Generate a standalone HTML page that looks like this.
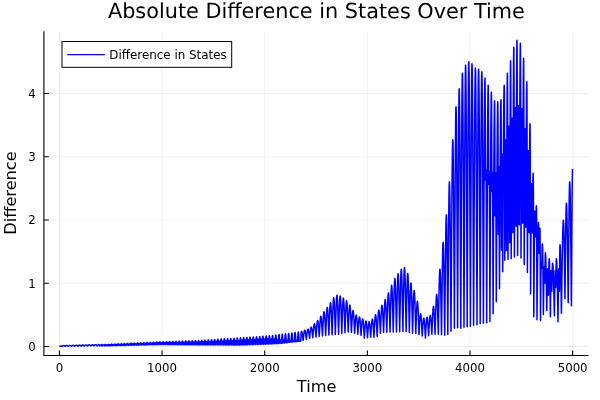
<!DOCTYPE html>
<html><head><meta charset="utf-8"><title>Absolute Difference in States Over Time</title>
<style>html,body{margin:0;padding:0;background:#fff}svg{display:block}</style></head>
<body>
<svg width="600" height="400" viewBox="0 0 600 400">
<rect width="600" height="400" fill="#fff"/>
<path d="M59.40 31.2 V355.55 M162.05 31.2 V355.55 M264.70 31.2 V355.55 M367.35 31.2 V355.55 M470.00 31.2 V355.55 M572.65 31.2 V355.55 M43.9 346.50 H588.5 M43.9 283.25 H588.5 M43.9 220.00 H588.5 M43.9 156.75 H588.5 M43.9 93.50 H588.5" stroke="#000" stroke-opacity="0.1" stroke-width="0.6" fill="none"/>
<path d="M59.40 346.00 L60.20 346.05 L61.00 346.20 L61.79 346.37 L62.33 346.00 L62.87 345.70 L63.40 345.58 L63.94 345.69 L64.48 345.98 L65.01 346.33 L65.55 345.93 L66.09 345.61 L66.62 345.49 L67.16 345.60 L67.69 345.91 L68.23 346.30 L68.77 345.87 L69.30 345.52 L69.84 345.39 L70.38 345.52 L70.91 345.85 L71.45 346.26 L71.99 345.80 L72.52 345.44 L73.06 345.30 L73.59 345.43 L74.13 345.78 L74.67 346.22 L75.20 345.73 L75.74 345.35 L76.28 345.20 L76.81 345.34 L77.35 345.71 L77.89 346.18 L78.42 345.67 L78.96 345.26 L79.49 345.10 L80.03 345.26 L80.57 345.65 L81.10 346.14 L81.64 345.60 L82.18 345.17 L82.71 345.01 L83.25 345.17 L83.78 345.58 L84.32 346.10 L84.86 345.54 L85.39 345.09 L85.93 344.91 L86.47 345.08 L87.00 345.52 L87.54 346.07 L88.08 345.47 L88.61 345.00 L89.15 344.82 L89.68 344.99 L90.22 345.45 L90.76 346.03 L91.29 345.41 L91.83 344.91 L92.37 344.72 L92.90 344.91 L93.44 345.39 L93.98 345.99 L94.51 345.34 L95.05 344.83 L95.58 344.63 L96.12 344.82 L96.66 345.32 L97.19 345.95 L97.73 345.28 L98.27 344.74 L98.80 344.53 L99.07 344.73 L99.34 345.26 L99.61 345.92 L99.87 345.48 L100.14 345.12 L100.41 344.98 L100.68 345.12 L100.95 345.47 L101.22 345.90 L101.48 345.21 L101.75 344.65 L102.02 344.44 L102.29 344.65 L102.56 345.20 L102.82 345.89 L103.09 345.42 L103.36 345.05 L103.63 344.91 L103.90 345.05 L104.17 345.41 L104.43 345.87 L104.70 345.14 L104.97 344.56 L105.24 344.34 L105.51 344.56 L105.77 345.13 L106.04 345.85 L106.31 345.37 L106.58 344.98 L106.85 344.83 L107.12 344.98 L107.38 345.36 L107.65 345.83 L107.92 345.08 L108.19 344.48 L108.46 344.25 L108.72 344.47 L108.99 345.07 L109.26 345.81 L109.53 345.31 L109.80 344.91 L110.06 344.76 L110.33 344.91 L110.60 345.29 L110.87 345.78 L111.14 344.99 L111.41 344.36 L111.67 344.12 L111.94 344.36 L112.21 344.97 L112.48 345.74 L112.75 345.21 L113.01 344.79 L113.28 344.63 L113.55 344.79 L113.82 345.19 L114.09 345.70 L114.36 344.88 L114.62 344.22 L114.89 343.97 L115.16 344.21 L115.43 344.86 L115.70 345.66 L115.96 345.11 L116.23 344.67 L116.50 344.50 L116.77 344.67 L117.04 345.09 L117.31 345.62 L117.57 344.76 L117.84 344.07 L118.11 343.81 L118.38 344.07 L118.65 344.74 L118.91 345.59 L119.18 345.01 L119.45 344.55 L119.72 344.38 L119.99 344.55 L120.26 344.99 L120.52 345.55 L120.79 344.65 L121.06 343.93 L121.33 343.66 L121.60 343.93 L121.86 344.63 L122.13 345.51 L122.40 344.91 L122.67 344.43 L122.94 344.25 L123.21 344.43 L123.47 344.89 L123.74 345.47 L124.01 344.54 L124.28 343.79 L124.55 343.50 L124.81 343.78 L125.08 344.51 L125.35 345.43 L125.62 344.81 L125.89 344.31 L126.16 344.12 L126.42 344.31 L126.69 344.79 L126.96 345.39 L127.23 344.42 L127.50 343.65 L127.76 343.35 L128.03 343.64 L128.30 344.40 L128.57 345.35 L128.84 344.71 L129.10 344.19 L129.37 343.99 L129.64 344.19 L129.91 344.69 L130.18 345.32 L130.45 344.31 L130.71 343.50 L130.98 343.19 L131.25 343.50 L131.52 344.29 L131.79 345.28 L132.05 344.61 L132.32 344.07 L132.59 343.87 L132.86 344.07 L133.13 344.59 L133.40 345.24 L133.66 344.19 L133.93 343.36 L134.20 343.04 L134.47 343.35 L134.74 344.17 L135.00 345.20 L135.27 344.51 L135.54 343.95 L135.81 343.74 L136.08 343.95 L136.35 344.49 L136.61 345.16 L136.88 344.08 L137.15 343.22 L137.42 342.88 L137.69 343.21 L137.95 344.06 L138.22 345.12 L138.49 344.40 L138.76 343.83 L139.03 343.61 L139.30 343.83 L139.56 344.38 L139.83 345.08 L140.10 343.97 L140.37 343.07 L140.64 342.73 L140.90 343.07 L141.17 343.95 L141.44 345.05 L141.71 344.30 L141.98 343.71 L142.24 343.48 L142.51 343.70 L142.78 344.28 L143.05 345.01 L143.32 343.85 L143.59 342.93 L143.85 342.58 L144.12 342.92 L144.39 343.83 L144.66 344.97 L144.93 344.20 L145.19 343.59 L145.46 343.36 L145.73 343.58 L146.00 344.18 L146.27 344.93 L146.54 343.74 L146.80 342.79 L147.07 342.42 L147.34 342.78 L147.61 343.72 L147.88 344.89 L148.14 344.10 L148.41 343.47 L148.68 343.23 L148.95 343.46 L149.22 344.08 L149.49 344.85 L149.75 343.62 L150.02 342.64 L150.29 342.27 L150.56 342.64 L150.83 343.60 L151.09 344.81 L151.36 344.00 L151.63 343.35 L151.90 343.10 L152.17 343.34 L152.44 343.98 L152.70 344.78 L152.97 343.51 L153.24 342.50 L153.51 342.11 L153.78 342.49 L154.04 343.49 L154.31 344.74 L154.58 343.90 L154.85 343.23 L155.12 342.97 L155.39 343.22 L155.65 343.88 L155.92 344.70 L156.19 343.40 L156.46 342.36 L156.73 341.96 L156.99 342.35 L157.26 343.38 L157.53 344.66 L157.80 343.80 L158.07 343.11 L158.34 342.85 L158.60 343.10 L158.87 343.78 L159.14 344.62 L159.41 343.28 L159.68 342.21 L159.94 341.80 L160.21 342.21 L160.48 343.27 L160.75 344.61 L161.02 343.72 L161.28 343.02 L161.55 342.75 L161.82 343.02 L162.09 343.73 L162.36 344.62 L162.63 343.23 L162.89 342.12 L163.16 341.69 L163.43 342.12 L163.70 343.23 L163.97 344.63 L164.23 343.71 L164.50 342.97 L164.77 342.68 L165.04 342.97 L165.31 343.71 L165.58 344.64 L165.84 343.19 L166.11 342.02 L166.38 341.58 L166.65 342.02 L166.92 343.19 L167.18 344.65 L167.45 343.69 L167.72 342.92 L167.99 342.62 L168.26 342.92 L168.53 343.69 L168.79 344.67 L169.06 343.15 L169.33 341.93 L169.60 341.46 L169.87 341.93 L170.13 343.15 L170.40 344.68 L170.67 343.67 L170.94 342.86 L171.21 342.55 L171.48 342.87 L171.74 343.68 L172.01 344.69 L172.28 343.10 L172.55 341.84 L172.82 341.35 L173.08 341.84 L173.35 343.11 L173.62 344.70 L173.89 343.65 L174.16 342.81 L174.42 342.49 L174.69 342.81 L174.96 343.66 L175.23 344.71 L175.50 343.06 L175.77 341.74 L176.03 341.24 L176.30 341.75 L176.57 343.07 L176.84 344.73 L177.11 343.63 L177.37 342.76 L177.64 342.42 L177.91 342.76 L178.18 343.64 L178.45 344.74 L178.72 343.02 L178.98 341.65 L179.25 341.13 L179.52 341.65 L179.79 343.03 L180.06 344.75 L180.32 343.62 L180.59 342.71 L180.86 342.36 L181.13 342.71 L181.40 343.62 L181.67 344.76 L181.93 342.98 L182.20 341.56 L182.47 341.01 L182.74 341.56 L183.01 342.99 L183.27 344.77 L183.54 343.60 L183.81 342.66 L184.08 342.30 L184.35 342.66 L184.62 343.60 L184.88 344.79 L185.15 342.94 L185.42 341.47 L185.69 340.90 L185.96 341.47 L186.22 342.95 L186.49 344.80 L186.76 343.58 L187.03 342.60 L187.30 342.23 L187.57 342.61 L187.83 343.59 L188.10 344.81 L188.37 342.90 L188.64 341.37 L188.91 340.79 L189.17 341.38 L189.44 342.91 L189.71 344.82 L189.98 343.56 L190.25 342.55 L190.52 342.17 L190.78 342.55 L191.05 343.57 L191.32 344.83 L191.59 342.86 L191.86 341.28 L192.12 340.68 L192.39 341.28 L192.66 342.87 L192.93 344.85 L193.20 343.54 L193.46 342.50 L193.73 342.10 L194.00 342.50 L194.27 343.55 L194.54 344.86 L194.81 342.82 L195.07 341.19 L195.34 340.56 L195.61 341.19 L195.88 342.82 L196.15 344.87 L196.41 343.52 L196.68 342.45 L196.95 342.04 L197.22 342.45 L197.49 343.53 L197.76 344.88 L198.02 342.78 L198.29 341.10 L198.56 340.45 L198.83 341.10 L199.10 342.78 L199.36 344.90 L199.63 343.50 L199.90 342.39 L200.17 341.97 L200.44 342.40 L200.71 343.51 L200.97 344.90 L201.24 342.71 L201.51 340.96 L201.78 340.28 L202.05 340.96 L202.31 342.71 L202.58 344.91 L202.85 343.45 L203.12 342.29 L203.39 341.84 L203.66 342.29 L203.92 343.46 L204.19 344.92 L204.46 342.62 L204.73 340.78 L205.00 340.08 L205.26 340.78 L205.53 342.62 L205.80 344.93 L206.07 343.40 L206.34 342.18 L206.60 341.71 L206.87 342.18 L207.14 343.40 L207.41 344.94 L207.61 343.12 L207.81 341.46 L208.01 340.29 L208.21 339.87 L208.42 340.29 L208.62 341.46 L208.82 343.12 L209.02 344.95 L209.29 343.35 L209.55 342.07 L209.82 341.58 L210.09 342.07 L210.36 343.35 L210.63 344.95 L210.83 343.05 L211.03 341.32 L211.23 340.10 L211.43 339.66 L211.63 340.10 L211.83 341.32 L212.04 343.06 L212.24 344.96 L212.50 343.29 L212.77 341.96 L213.04 341.45 L213.31 341.96 L213.58 343.30 L213.85 344.97 L214.05 342.99 L214.25 341.18 L214.45 339.91 L214.65 339.45 L214.85 339.91 L215.05 341.18 L215.25 342.99 L215.45 344.98 L215.72 343.24 L215.99 341.85 L216.26 341.32 L216.53 341.85 L216.80 343.24 L217.06 344.99 L217.26 342.92 L217.47 341.04 L217.67 339.72 L217.87 339.24 L218.07 339.72 L218.27 341.04 L218.47 342.93 L218.67 344.99 L218.94 343.18 L219.21 341.74 L219.48 341.19 L219.75 341.74 L220.01 343.19 L220.28 345.00 L220.48 342.86 L220.68 340.90 L220.88 339.53 L221.09 339.03 L221.29 339.53 L221.49 340.90 L221.69 342.86 L221.89 345.01 L222.16 343.13 L222.43 341.63 L222.69 341.06 L222.96 341.63 L223.23 343.14 L223.50 345.02 L223.70 342.79 L223.90 340.76 L224.10 339.34 L224.30 338.82 L224.51 339.34 L224.71 340.77 L224.91 342.80 L225.11 345.03 L225.38 343.08 L225.64 341.52 L225.91 340.93 L226.18 341.52 L226.45 343.08 L226.72 345.03 L226.92 342.73 L227.12 340.63 L227.32 339.15 L227.52 338.61 L227.72 339.15 L227.92 340.63 L228.13 342.73 L228.33 345.04 L228.59 343.02 L228.86 341.41 L229.13 340.80 L229.40 341.41 L229.67 343.03 L229.94 345.05 L230.14 342.66 L230.34 340.49 L230.54 338.95 L230.74 338.40 L230.94 338.96 L231.14 340.49 L231.34 342.67 L231.54 345.06 L231.81 342.97 L232.08 341.30 L232.35 340.66 L232.62 341.31 L232.89 342.98 L233.15 345.07 L233.35 342.60 L233.56 340.35 L233.76 338.76 L233.96 338.19 L234.16 338.76 L234.36 340.35 L234.56 342.60 L234.76 345.07 L235.03 342.92 L235.30 341.20 L235.57 340.53 L235.84 341.20 L236.10 342.92 L236.37 345.08 L236.57 342.53 L236.77 340.21 L236.97 338.57 L237.18 337.98 L237.38 338.57 L237.58 340.21 L237.78 342.54 L237.98 345.09 L238.25 342.86 L238.52 341.09 L238.78 340.40 L239.05 341.09 L239.32 342.87 L239.59 345.10 L239.79 342.47 L239.99 340.07 L240.19 338.38 L240.39 337.77 L240.60 338.38 L240.80 340.06 L241.00 342.44 L241.20 345.06 L241.47 342.77 L241.73 340.94 L242.00 340.24 L242.27 340.93 L242.54 342.74 L242.81 345.00 L243.01 342.33 L243.21 339.89 L243.41 338.18 L243.61 337.56 L243.81 338.17 L244.01 339.87 L244.22 342.29 L244.42 344.94 L244.68 342.62 L244.95 340.77 L245.22 340.06 L245.49 340.76 L245.76 342.59 L246.03 344.88 L246.23 342.17 L246.43 339.71 L246.63 337.97 L246.83 337.34 L247.03 337.97 L247.23 339.69 L247.43 342.14 L247.63 344.82 L247.90 342.47 L248.17 340.60 L248.44 339.88 L248.71 340.59 L248.98 342.44 L249.24 344.76 L249.44 342.02 L249.65 339.52 L249.85 337.76 L250.05 337.13 L250.25 337.76 L250.45 339.50 L250.65 341.98 L250.85 344.70 L251.05 342.91 L251.25 341.27 L251.46 340.12 L251.66 339.70 L251.93 340.42 L252.19 342.30 L252.46 344.64 L252.66 341.87 L252.86 339.34 L253.06 337.56 L253.27 336.92 L253.47 337.55 L253.67 339.32 L253.87 341.83 L254.07 344.58 L254.27 342.77 L254.47 341.11 L254.67 339.94 L254.88 339.52 L255.08 339.94 L255.28 341.09 L255.48 342.73 L255.68 344.53 L255.88 341.72 L256.08 339.15 L256.28 337.35 L256.48 336.70 L256.69 337.35 L256.89 339.14 L257.09 341.68 L257.29 344.47 L257.49 342.63 L257.69 340.95 L257.89 339.77 L258.09 339.34 L258.29 339.76 L258.50 340.93 L258.70 342.59 L258.90 344.41 L259.10 341.56 L259.30 338.97 L259.50 337.15 L259.70 336.49 L259.90 337.14 L260.10 338.95 L260.31 341.53 L260.51 344.35 L260.71 342.48 L260.91 340.79 L261.11 339.59 L261.31 339.16 L261.51 339.58 L261.71 340.77 L261.91 342.45 L262.12 344.29 L262.32 341.41 L262.52 338.79 L262.72 336.94 L262.92 336.27 L263.12 336.93 L263.32 338.77 L263.52 341.37 L263.72 344.23 L263.93 342.34 L264.13 340.62 L264.33 339.41 L264.53 338.98 L264.73 339.41 L264.93 340.61 L265.13 342.31 L265.33 344.17 L265.53 341.26 L265.74 338.60 L265.94 336.73 L266.14 336.06 L266.34 336.73 L266.54 338.58 L266.74 341.22 L266.94 344.11 L267.14 342.20 L267.34 340.46 L267.55 339.24 L267.75 338.80 L267.95 339.23 L268.15 340.45 L268.35 342.17 L268.55 344.05 L268.75 341.11 L268.95 338.42 L269.15 336.53 L269.36 335.84 L269.56 336.52 L269.76 338.40 L269.96 341.07 L270.16 343.99 L270.43 341.65 L270.70 339.78 L270.97 339.06 L271.23 339.77 L271.50 341.61 L271.77 343.91 L271.97 340.87 L272.17 338.10 L272.37 336.14 L272.57 335.44 L272.78 336.14 L272.98 338.07 L273.18 340.82 L273.38 343.83 L273.65 341.68 L273.91 339.95 L274.18 339.29 L274.45 339.94 L274.72 341.63 L274.99 343.75 L275.19 340.60 L275.39 337.74 L275.59 335.72 L275.79 334.99 L275.99 335.71 L276.19 337.71 L276.40 340.55 L276.60 343.67 L276.86 341.72 L277.13 340.16 L277.40 339.56 L277.67 340.15 L277.94 341.68 L278.21 343.59 L278.41 340.34 L278.61 337.38 L278.81 335.29 L279.01 334.54 L279.21 335.28 L279.41 337.35 L279.61 340.29 L279.81 343.51 L280.08 341.77 L280.35 340.38 L280.62 339.84 L280.89 340.35 L281.16 341.67 L281.42 343.33 L281.62 340.03 L281.83 337.02 L282.03 334.90 L282.23 334.13 L282.43 334.88 L282.63 336.96 L282.83 339.90 L283.03 343.14 L283.30 341.67 L283.57 340.50 L283.84 340.05 L284.11 340.47 L284.37 341.57 L284.64 342.94 L284.84 339.64 L285.04 336.63 L285.24 334.51 L285.45 333.75 L285.65 334.50 L285.85 336.57 L286.05 339.52 L286.25 342.75 L286.52 341.57 L286.79 340.62 L287.06 340.26 L287.32 340.59 L287.59 341.47 L287.86 342.56 L288.06 339.25 L288.26 336.24 L288.46 334.13 L288.66 333.36 L288.87 334.11 L289.07 336.18 L289.27 339.13 L289.47 342.36 L289.74 341.47 L290.00 340.75 L290.27 340.47 L290.54 340.72 L290.81 341.38 L291.08 342.19 L291.28 338.87 L291.48 335.84 L291.68 333.71 L291.88 332.94 L292.08 333.69 L292.28 335.79 L292.49 338.77 L292.69 342.03 L292.95 341.41 L293.22 340.92 L293.49 340.73 L293.76 340.90 L294.03 341.33 L294.30 341.87 L294.50 338.50 L294.70 335.43 L294.90 333.27 L295.10 332.49 L295.30 333.25 L295.50 335.38 L295.70 338.40 L295.90 341.71 L296.17 341.37 L296.44 341.11 L296.71 341.00 L296.98 341.08 L297.25 341.29 L297.51 341.55 L297.71 338.13 L297.92 335.02 L298.12 332.83 L298.32 332.04 L298.52 332.81 L298.72 334.97 L298.92 338.03 L299.12 341.39 L299.39 341.34 L299.66 341.31 L299.93 341.29 L300.20 341.19 L300.46 341.11 L300.73 341.08 L300.93 337.56 L301.13 334.35 L301.33 332.09 L301.54 331.28 L301.94 332.03 L302.34 334.12 L302.74 337.10 L303.15 340.36 L303.47 337.43 L303.79 334.62 L304.11 332.28 L304.43 330.73 L304.75 330.18 L305.16 330.95 L305.56 333.07 L305.96 336.09 L306.36 339.39 L306.68 336.43 L307.01 333.59 L307.33 331.22 L307.65 329.64 L307.97 329.09 L308.37 329.87 L308.78 332.02 L309.18 335.07 L309.58 338.43 L309.90 335.18 L310.22 332.06 L310.55 329.47 L310.87 327.74 L311.19 327.14 L311.51 327.71 L311.83 329.33 L312.16 331.77 L312.48 334.69 L312.80 337.74 L313.12 333.71 L313.44 329.84 L313.76 326.62 L314.09 324.48 L314.41 323.73 L314.73 324.44 L315.05 326.49 L315.37 329.56 L315.70 333.25 L316.02 337.10 L316.29 333.11 L316.55 329.20 L316.82 325.69 L317.09 322.89 L317.36 321.10 L317.63 320.47 L317.89 321.07 L318.16 322.80 L318.43 325.49 L318.70 328.86 L318.97 332.62 L319.24 336.45 L319.46 332.32 L319.69 328.22 L319.92 324.38 L320.15 321.07 L320.38 318.51 L320.61 316.89 L320.84 316.33 L321.11 317.07 L321.38 319.19 L321.65 322.49 L321.92 326.64 L322.18 331.25 L322.45 335.96 L322.68 330.98 L322.91 326.02 L323.14 321.39 L323.37 317.39 L323.60 314.30 L323.83 312.35 L324.06 311.68 L324.29 312.34 L324.52 314.26 L324.75 317.29 L324.98 321.21 L325.21 325.76 L325.44 330.62 L325.67 335.51 L325.87 330.46 L326.07 325.41 L326.27 320.58 L326.48 316.21 L326.68 312.53 L326.88 309.73 L327.08 307.99 L327.28 307.39 L327.48 307.98 L327.68 309.69 L327.88 312.44 L328.08 316.07 L328.29 320.37 L328.49 325.12 L328.69 330.09 L328.89 335.06 L329.07 329.89 L329.25 324.69 L329.43 319.64 L329.60 314.94 L329.78 310.78 L329.96 307.33 L330.14 304.74 L330.32 303.14 L330.50 302.60 L330.68 303.14 L330.86 304.73 L331.03 307.29 L331.21 310.70 L331.39 314.83 L331.57 319.49 L331.75 324.49 L331.93 329.64 L332.11 334.77 L332.27 329.47 L332.43 324.14 L332.59 318.90 L332.75 313.94 L332.91 309.40 L333.07 305.44 L333.23 302.20 L333.39 299.79 L333.56 298.31 L333.72 297.81 L333.88 298.31 L334.04 299.78 L334.20 302.17 L334.36 305.40 L334.52 309.34 L334.68 313.85 L334.84 318.79 L335.00 323.99 L335.16 329.30 L335.32 334.56 L335.49 328.92 L335.65 323.23 L335.81 317.66 L335.97 312.37 L336.13 307.54 L336.29 303.32 L336.45 299.86 L336.61 297.30 L336.77 295.72 L336.93 295.19 L337.09 295.72 L337.26 297.29 L337.42 299.84 L337.58 303.27 L337.74 307.47 L337.90 312.28 L338.06 317.55 L338.22 323.09 L338.38 328.74 L338.54 334.35 L338.70 328.85 L338.86 323.30 L339.03 317.86 L339.19 312.70 L339.35 307.98 L339.51 303.86 L339.67 300.49 L339.83 297.98 L339.99 296.44 L340.15 295.92 L340.31 296.43 L340.47 297.95 L340.63 300.40 L340.80 303.71 L340.96 307.76 L341.12 312.39 L341.28 317.46 L341.44 322.80 L341.60 328.26 L341.76 333.66 L341.92 328.57 L342.08 323.44 L342.24 318.42 L342.40 313.64 L342.57 309.28 L342.73 305.47 L342.89 302.36 L343.05 300.04 L343.21 298.62 L343.37 298.14 L343.55 298.72 L343.73 300.43 L343.91 303.19 L344.09 306.87 L344.26 311.31 L344.44 316.33 L344.62 321.72 L344.80 327.27 L344.98 332.79 L345.16 327.68 L345.34 322.53 L345.52 317.54 L345.69 312.89 L345.87 308.77 L346.05 305.36 L346.23 302.81 L346.41 301.22 L346.59 300.69 L346.77 301.21 L346.95 302.75 L347.12 305.23 L347.30 308.55 L347.48 312.56 L347.66 317.08 L347.84 321.94 L348.02 326.94 L348.20 331.92 L348.40 327.11 L348.60 322.29 L348.80 317.69 L349.00 313.52 L349.20 310.00 L349.40 307.34 L349.60 305.68 L349.81 305.11 L350.01 305.68 L350.21 307.37 L350.41 310.08 L350.61 313.65 L350.81 317.89 L351.01 322.57 L351.21 327.46 L351.42 332.34 L351.64 327.86 L351.87 323.39 L352.10 319.22 L352.33 315.62 L352.56 312.83 L352.79 311.08 L353.02 310.47 L353.25 311.10 L353.48 312.93 L353.71 315.82 L353.94 319.56 L354.17 323.90 L354.40 328.54 L354.63 333.20 L354.90 328.86 L355.17 324.60 L355.44 320.77 L355.71 317.73 L355.97 315.77 L356.24 315.09 L356.51 315.81 L356.78 317.88 L357.05 321.10 L357.31 325.15 L357.58 329.66 L357.85 334.25 L358.12 330.10 L358.39 326.02 L358.66 322.35 L358.92 319.44 L359.19 317.57 L359.46 316.92 L359.73 317.61 L360.00 319.61 L360.26 322.71 L360.53 326.61 L360.80 330.95 L361.07 335.37 L361.34 331.42 L361.61 327.54 L361.87 324.05 L362.14 321.28 L362.41 319.50 L362.68 318.89 L362.95 319.61 L363.21 321.71 L363.48 324.96 L363.75 329.06 L364.02 333.62 L364.29 338.26 L364.56 334.13 L364.82 330.08 L365.09 326.43 L365.36 323.54 L365.63 321.67 L365.90 321.03 L366.16 321.66 L366.43 323.47 L366.70 326.29 L366.97 329.83 L367.24 333.78 L367.51 337.80 L367.77 333.93 L368.04 330.13 L368.31 326.71 L368.58 324.00 L368.85 322.25 L369.11 321.64 L369.38 322.23 L369.65 323.92 L369.92 326.55 L370.19 329.86 L370.45 333.55 L370.72 337.30 L370.99 332.94 L371.26 328.66 L371.53 324.82 L371.80 321.77 L372.06 319.80 L372.33 319.12 L372.60 319.80 L372.87 321.77 L373.14 324.82 L373.40 328.66 L373.67 332.94 L373.94 337.30 L374.17 332.67 L374.40 328.06 L374.63 323.76 L374.86 320.05 L375.09 317.17 L375.32 315.36 L375.55 314.74 L375.78 315.33 L376.01 317.07 L376.24 319.83 L376.47 323.39 L376.70 327.52 L376.93 331.93 L377.16 336.37 L377.36 331.66 L377.56 326.93 L377.76 322.42 L377.96 318.33 L378.16 314.89 L378.37 312.28 L378.57 310.64 L378.77 310.09 L379.00 310.72 L379.23 312.58 L379.46 315.51 L379.69 319.31 L379.92 323.70 L380.15 328.41 L380.38 333.14 L380.58 328.15 L380.78 323.16 L380.98 318.39 L381.18 314.07 L381.38 310.43 L381.58 307.66 L381.78 305.94 L381.99 305.35 L382.19 305.92 L382.39 307.60 L382.59 310.29 L382.79 313.83 L382.99 318.03 L383.19 322.67 L383.39 327.52 L383.60 332.37 L383.77 327.13 L383.95 321.86 L384.13 316.74 L384.31 311.97 L384.49 307.75 L384.67 304.25 L384.85 301.63 L385.03 300.01 L385.20 299.46 L385.38 300.00 L385.56 301.61 L385.74 304.22 L385.92 307.69 L386.10 311.88 L386.28 316.62 L386.46 321.70 L386.63 326.93 L386.81 332.14 L386.97 326.51 L387.13 320.84 L387.30 315.28 L387.46 310.01 L387.62 305.18 L387.78 300.97 L387.94 297.53 L388.10 294.97 L388.26 293.40 L388.42 292.87 L388.58 293.39 L388.74 294.96 L388.90 297.51 L389.07 300.94 L389.23 305.12 L389.39 309.93 L389.55 315.18 L389.71 320.71 L389.87 326.36 L390.03 331.96 L390.17 326.40 L390.30 320.78 L390.43 315.21 L390.57 309.80 L390.70 304.67 L390.84 299.94 L390.97 295.71 L391.10 292.10 L391.24 289.19 L391.37 287.05 L391.51 285.75 L391.64 285.31 L391.77 285.74 L391.91 287.05 L392.04 289.18 L392.18 292.09 L392.31 295.70 L392.44 299.92 L392.58 304.65 L392.71 309.77 L392.85 315.17 L392.98 320.73 L393.11 326.35 L393.25 331.90 L393.38 325.54 L393.52 319.11 L393.65 312.74 L393.79 306.55 L393.92 300.69 L394.05 295.27 L394.19 290.44 L394.32 286.31 L394.46 282.98 L394.59 280.53 L394.72 279.04 L394.86 278.54 L394.99 279.04 L395.13 280.53 L395.26 282.98 L395.39 286.31 L395.53 290.44 L395.66 295.27 L395.80 300.69 L395.93 306.55 L396.06 312.74 L396.20 319.11 L396.33 325.54 L396.47 331.90 L396.60 324.97 L396.74 317.96 L396.87 311.02 L397.00 304.28 L397.14 297.88 L397.27 291.98 L397.41 286.71 L397.54 282.21 L397.67 278.58 L397.81 275.92 L397.94 274.29 L398.08 273.74 L398.21 274.29 L398.34 275.91 L398.48 278.56 L398.61 282.18 L398.75 286.67 L398.88 291.92 L399.01 297.80 L399.15 304.17 L399.28 310.89 L399.42 317.81 L399.55 324.79 L399.69 331.69 L399.82 324.24 L399.95 316.71 L400.09 309.25 L400.22 302.00 L400.36 295.13 L400.49 288.79 L400.62 283.13 L400.76 278.29 L400.89 274.39 L401.03 271.52 L401.16 269.78 L401.29 269.19 L401.43 269.77 L401.56 271.51 L401.70 274.36 L401.83 278.24 L401.96 283.06 L402.10 288.70 L402.23 295.01 L402.37 301.85 L402.50 309.06 L402.63 316.49 L402.77 323.99 L402.90 331.40 L403.04 323.80 L403.17 316.11 L403.31 308.49 L403.44 301.09 L403.57 294.08 L403.71 287.61 L403.84 281.83 L403.98 276.89 L404.11 272.91 L404.24 269.98 L404.38 268.20 L404.51 267.60 L404.65 268.20 L404.78 269.99 L404.91 272.92 L405.05 276.91 L405.18 281.87 L405.32 287.66 L405.45 294.15 L405.58 301.18 L405.72 308.60 L405.85 316.24 L405.99 323.94 L406.12 331.57 L406.26 324.64 L406.39 317.64 L406.52 310.70 L406.66 303.96 L406.79 297.57 L406.93 291.68 L407.06 286.42 L407.19 281.92 L407.33 278.29 L407.46 275.63 L407.60 274.00 L407.73 273.46 L407.86 274.01 L408.00 275.66 L408.13 278.37 L408.27 282.05 L408.40 286.63 L408.53 291.97 L408.67 297.96 L408.80 304.46 L408.94 311.30 L409.07 318.35 L409.20 325.47 L409.34 332.50 L409.47 326.60 L409.61 320.64 L409.74 314.73 L409.88 308.99 L410.01 303.55 L410.14 298.52 L410.28 294.04 L410.41 290.21 L410.55 287.12 L410.68 284.85 L410.81 283.46 L410.95 283.00 L411.08 283.47 L411.22 284.87 L411.35 287.17 L411.48 290.30 L411.62 294.19 L411.75 298.73 L411.89 303.82 L412.02 309.34 L412.15 315.16 L412.29 321.15 L412.42 327.19 L412.56 333.17 L412.70 327.63 L412.85 322.03 L413.00 316.51 L413.14 311.20 L413.29 306.23 L413.43 301.76 L413.58 297.90 L413.73 294.77 L413.87 292.46 L414.02 291.05 L414.17 290.57 L414.31 291.05 L414.46 292.48 L414.60 294.81 L414.75 297.97 L414.90 301.87 L415.04 306.38 L415.19 311.39 L415.34 316.75 L415.48 322.33 L415.63 327.98 L415.78 333.57 L415.95 328.44 L416.13 323.28 L416.31 318.27 L416.49 313.60 L416.67 309.47 L416.85 306.05 L417.03 303.48 L417.21 301.89 L417.38 301.36 L417.56 301.91 L417.74 303.55 L417.92 306.19 L418.10 309.73 L418.28 313.99 L418.46 318.80 L418.64 323.97 L418.81 329.30 L418.99 334.59 L419.22 330.34 L419.45 326.10 L419.68 322.15 L419.91 318.73 L420.14 316.09 L420.37 314.42 L420.60 313.85 L420.83 314.46 L421.06 316.25 L421.29 319.07 L421.52 322.73 L421.75 326.96 L421.98 331.48 L422.21 336.04 L422.48 331.75 L422.75 327.55 L423.02 323.77 L423.28 320.77 L423.55 318.84 L423.82 318.17 L424.09 318.91 L424.36 321.07 L424.62 324.42 L424.89 328.63 L425.16 333.33 L425.43 338.10 L425.66 333.81 L425.89 329.55 L426.12 325.56 L426.35 322.12 L426.58 319.46 L426.81 317.78 L427.04 317.20 L427.31 317.89 L427.57 319.88 L427.84 322.98 L428.11 326.88 L428.38 331.22 L428.65 335.64 L428.88 331.48 L429.11 327.35 L429.34 323.49 L429.57 320.15 L429.80 317.57 L430.03 315.94 L430.26 315.39 L430.52 316.09 L430.79 318.14 L431.06 321.32 L431.33 325.32 L431.60 329.77 L431.87 334.30 L432.07 329.27 L432.27 324.23 L432.47 319.42 L432.67 315.06 L432.87 311.38 L433.07 308.60 L433.27 306.86 L433.47 306.27 L433.68 306.86 L433.88 308.60 L434.08 311.38 L434.28 315.06 L434.48 319.42 L434.68 324.23 L434.88 329.27 L435.08 334.30 L435.24 328.60 L435.40 322.86 L435.57 317.23 L435.73 311.88 L435.89 306.99 L436.05 302.73 L436.21 299.24 L436.37 296.65 L436.53 295.06 L436.69 294.52 L436.85 295.06 L437.01 296.65 L437.17 299.24 L437.34 302.73 L437.50 306.99 L437.66 311.88 L437.82 317.23 L437.98 322.86 L438.14 328.60 L438.30 334.30 L438.44 326.54 L438.57 318.71 L438.70 310.93 L438.84 303.39 L438.97 296.23 L439.11 289.63 L439.24 283.74 L439.37 278.70 L439.51 274.63 L439.64 271.65 L439.78 269.84 L439.91 269.22 L440.04 269.84 L440.18 271.67 L440.31 274.67 L440.45 278.76 L440.58 283.83 L440.71 289.76 L440.85 296.41 L440.98 303.61 L441.12 311.20 L441.25 319.02 L441.38 326.91 L441.52 334.72 L441.65 323.70 L441.79 312.56 L441.92 301.52 L442.06 290.80 L442.19 280.64 L442.32 271.26 L442.46 262.89 L442.59 255.73 L442.73 249.96 L442.86 245.72 L442.99 243.14 L443.13 242.27 L443.26 243.14 L443.40 245.74 L443.53 250.00 L443.66 255.81 L443.80 263.01 L443.93 271.44 L444.07 280.87 L444.20 291.10 L444.33 301.89 L444.47 312.99 L444.60 324.20 L444.74 335.28 L444.87 320.93 L445.01 306.41 L445.14 292.02 L445.27 278.05 L445.41 264.81 L445.54 252.58 L445.68 241.67 L445.81 232.34 L445.94 224.82 L446.08 219.30 L446.21 215.93 L446.35 214.80 L446.47 215.93 L446.59 219.27 L446.71 224.76 L446.83 232.23 L446.95 241.51 L447.07 252.35 L447.19 264.50 L447.32 277.67 L447.44 291.55 L447.56 305.85 L447.68 320.28 L447.80 334.55 L447.93 316.34 L448.07 297.93 L448.20 279.69 L448.33 261.97 L448.47 245.17 L448.60 229.67 L448.73 215.83 L448.87 203.99 L449.00 194.46 L449.13 187.46 L449.27 183.19 L449.40 181.75 L449.53 183.16 L449.67 187.34 L449.80 194.18 L449.93 203.51 L450.07 215.09 L450.20 228.63 L450.33 243.80 L450.47 260.24 L450.60 277.57 L450.73 295.42 L450.87 313.43 L451.00 331.25 L451.15 308.43 L451.30 285.36 L451.45 262.49 L451.60 240.29 L451.75 219.23 L451.90 199.81 L452.05 182.46 L452.20 167.63 L452.35 155.67 L452.50 146.91 L452.65 141.55 L452.80 139.75 L452.93 141.52 L453.07 146.79 L453.20 155.42 L453.33 167.19 L453.47 181.79 L453.60 198.86 L453.73 217.99 L453.87 238.71 L454.00 260.57 L454.13 283.08 L454.27 305.79 L454.40 328.25 L454.53 301.85 L454.67 275.17 L454.80 248.72 L454.93 223.04 L455.07 198.68 L455.20 176.21 L455.33 156.15 L455.47 139.00 L455.60 125.17 L455.73 115.03 L455.87 108.83 L456.00 106.75 L456.13 108.83 L456.27 115.01 L456.40 125.14 L456.53 138.94 L456.67 156.06 L456.80 176.09 L456.93 198.52 L457.07 222.83 L457.20 248.46 L457.33 274.87 L457.47 301.50 L457.60 327.85 L457.73 299.35 L457.87 270.55 L458.00 242.00 L458.13 214.28 L458.27 187.99 L458.40 163.73 L458.53 142.08 L458.67 123.56 L458.80 108.63 L458.93 97.68 L459.07 91.00 L459.20 88.75 L459.33 91.00 L459.47 97.70 L459.60 108.67 L459.73 123.62 L459.87 142.17 L460.00 163.86 L460.13 188.16 L460.27 214.49 L460.40 242.26 L460.53 270.86 L460.67 299.71 L460.80 328.25 L460.93 297.85 L461.07 267.12 L461.20 236.65 L461.33 207.08 L461.47 179.03 L461.60 153.15 L461.73 130.05 L461.87 110.29 L462.00 94.36 L462.13 82.68 L462.27 75.55 L462.40 73.15 L462.53 75.54 L462.67 82.64 L462.80 94.28 L462.93 110.14 L463.07 129.82 L463.20 152.84 L463.33 178.62 L463.47 206.55 L463.60 236.01 L463.73 266.36 L463.87 296.97 L464.00 327.25 L464.13 296.01 L464.27 264.44 L464.40 233.14 L464.53 202.75 L464.67 173.94 L464.80 147.35 L464.93 123.61 L465.07 103.31 L465.20 86.94 L465.33 74.94 L465.47 67.61 L465.60 65.15 L465.73 67.61 L465.87 74.92 L466.00 86.89 L466.13 103.22 L466.27 123.48 L466.40 147.16 L466.53 173.69 L466.67 202.44 L466.80 232.76 L466.93 263.99 L467.07 295.49 L467.20 326.65 L467.33 295.08 L467.47 263.17 L467.60 231.54 L467.73 200.82 L467.87 171.70 L468.00 144.82 L468.13 120.83 L468.27 100.31 L468.40 83.78 L468.53 71.65 L468.67 64.24 L468.80 61.75 L468.93 64.24 L469.07 71.63 L469.20 83.74 L469.33 100.26 L469.47 120.74 L469.60 144.70 L469.73 171.53 L469.87 200.61 L470.00 231.28 L470.13 262.87 L470.27 294.73 L470.40 326.25 L470.53 294.97 L470.67 263.35 L470.80 232.00 L470.93 201.56 L471.07 172.70 L471.20 146.07 L471.33 122.30 L471.47 101.96 L471.60 85.58 L471.73 73.56 L471.87 66.22 L472.00 63.75 L472.13 66.21 L472.27 73.52 L472.40 85.49 L472.53 101.82 L472.67 122.08 L472.80 145.76 L472.93 172.29 L473.07 201.04 L473.20 231.36 L473.33 262.59 L473.47 294.09 L473.60 325.25 L473.75 294.59 L473.90 263.59 L474.05 232.86 L474.20 203.03 L474.35 174.74 L474.50 148.64 L474.65 125.34 L474.80 105.41 L474.95 89.35 L475.10 77.56 L475.25 70.37 L475.40 67.95 L475.53 70.37 L475.67 77.55 L475.80 89.31 L475.93 105.35 L476.07 125.25 L476.20 148.51 L476.33 174.58 L476.47 202.82 L476.60 232.61 L476.73 263.29 L476.87 294.23 L477.00 324.85 L477.13 294.38 L477.27 263.58 L477.40 233.04 L477.53 203.39 L477.67 175.28 L477.80 149.34 L477.93 126.18 L478.07 106.37 L478.20 90.41 L478.33 78.70 L478.47 71.55 L478.60 69.15 L478.73 71.54 L478.87 78.66 L479.00 90.31 L479.13 106.20 L479.27 125.91 L479.40 148.96 L479.53 174.78 L479.67 202.76 L479.80 232.27 L479.93 262.66 L480.07 293.32 L480.20 323.65 L480.33 293.63 L480.47 263.29 L480.60 233.20 L480.73 204.00 L480.87 176.30 L481.00 150.75 L481.13 127.93 L481.27 108.42 L481.40 92.70 L481.53 81.16 L481.67 74.12 L481.80 71.75 L481.93 74.11 L482.07 81.15 L482.20 92.66 L482.33 108.36 L482.47 127.84 L482.60 150.62 L482.73 176.14 L482.87 203.79 L483.00 232.95 L483.13 262.98 L483.27 293.28 L483.40 323.25 L483.53 294.02 L483.67 264.47 L483.80 235.17 L483.93 206.73 L484.07 179.76 L484.20 154.88 L484.33 132.66 L484.47 113.66 L484.60 98.35 L484.73 87.12 L484.87 80.26 L485.00 77.95 L485.04 78.91 L485.08 81.76 L485.12 86.43 L485.17 92.80 L485.21 100.70 L485.25 109.94 L485.29 120.29 L485.33 131.51 L485.38 143.34 L485.42 155.52 L485.46 167.81 L485.50 179.96 L485.60 176.99 L485.70 174.14 L485.80 171.77 L485.90 170.19 L486.00 169.63 L486.06 171.07 L486.12 175.36 L486.18 182.37 L486.23 191.93 L486.29 203.80 L486.35 217.67 L486.41 233.21 L486.47 250.05 L486.52 267.81 L486.58 286.11 L486.64 304.56 L486.70 322.81 L486.82 294.49 L486.95 265.86 L487.07 237.48 L487.20 209.92 L487.32 183.79 L487.45 159.68 L487.57 138.16 L487.70 119.75 L487.82 104.91 L487.95 94.03 L488.07 87.38 L488.20 85.15 L488.24 86.08 L488.28 88.86 L488.32 93.41 L488.37 99.62 L488.41 107.31 L488.45 116.31 L488.49 126.39 L488.53 137.32 L488.57 148.84 L488.62 160.70 L488.66 172.67 L488.70 184.52 L488.80 180.87 L488.90 177.38 L489.00 174.46 L489.10 172.53 L489.20 171.85 L489.26 173.26 L489.32 177.44 L489.38 184.29 L489.43 193.62 L489.49 205.21 L489.55 218.76 L489.61 233.93 L489.67 250.37 L489.72 267.71 L489.78 285.58 L489.84 303.59 L489.90 321.42 L490.02 294.12 L490.15 266.53 L490.27 239.17 L490.40 212.61 L490.52 187.43 L490.65 164.19 L490.77 143.44 L490.90 125.70 L491.02 111.40 L491.15 100.91 L491.27 94.50 L491.40 92.35 L491.44 93.28 L491.48 96.05 L491.52 100.59 L491.57 106.78 L491.61 114.45 L491.65 123.43 L491.69 133.48 L491.73 144.38 L491.77 155.87 L491.82 167.70 L491.86 179.64 L491.90 191.45 L491.98 186.85 L492.07 182.33 L492.15 178.27 L492.23 175.05 L492.32 172.97 L492.40 172.25 L492.46 173.58 L492.52 177.54 L492.57 184.03 L492.63 192.87 L492.69 203.84 L492.75 216.66 L492.81 231.03 L492.87 246.60 L492.92 263.02 L492.98 279.93 L493.04 296.99 L493.10 313.87 L493.22 288.47 L493.35 262.80 L493.47 237.35 L493.60 212.64 L493.72 189.21 L493.85 167.58 L493.98 148.28 L494.10 131.78 L494.23 118.47 L494.35 108.71 L494.48 102.75 L494.60 100.75 L494.64 101.83 L494.68 105.05 L494.73 110.31 L494.77 117.49 L494.81 126.39 L494.85 136.81 L494.89 148.47 L494.93 161.11 L494.98 174.44 L495.02 188.17 L495.06 202.02 L495.10 215.72 L495.15 210.12 L495.19 204.46 L495.24 198.88 L495.28 193.51 L495.33 188.49 L495.37 183.97 L495.42 180.06 L495.46 176.90 L495.51 174.56 L495.55 173.13 L495.60 172.65 L495.66 173.86 L495.72 177.47 L495.78 183.38 L495.83 191.43 L495.89 201.42 L495.95 213.10 L496.01 226.18 L496.07 240.37 L496.12 255.32 L496.18 270.72 L496.24 286.26 L496.30 301.63 L496.43 277.81 L496.55 253.73 L496.68 229.86 L496.80 206.69 L496.93 184.71 L497.05 164.43 L497.18 146.33 L497.30 130.85 L497.43 118.37 L497.55 109.22 L497.68 103.63 L497.80 101.75 L497.84 103.00 L497.88 106.70 L497.93 112.77 L497.97 121.04 L498.01 131.30 L498.05 143.30 L498.09 156.74 L498.13 171.31 L498.18 186.67 L498.22 202.50 L498.26 218.46 L498.30 234.25 L498.34 226.16 L498.38 217.98 L498.43 209.87 L498.47 202.00 L498.51 194.53 L498.55 187.64 L498.59 181.49 L498.63 176.23 L498.68 172.00 L498.72 168.89 L498.76 166.99 L498.80 166.35 L498.86 167.50 L498.92 170.92 L498.98 176.52 L499.03 184.15 L499.09 193.63 L499.15 204.71 L499.21 217.11 L499.27 230.56 L499.32 244.74 L499.38 259.35 L499.44 274.08 L499.50 288.66 L499.62 266.14 L499.75 243.39 L499.88 220.83 L500.00 198.93 L500.12 178.16 L500.25 158.99 L500.38 141.88 L500.50 127.25 L500.62 115.46 L500.75 106.81 L500.88 101.53 L501.00 99.75 L501.04 101.17 L501.08 105.37 L501.12 112.26 L501.17 121.66 L501.21 133.32 L501.25 146.95 L501.29 162.22 L501.33 178.76 L501.38 196.21 L501.42 214.18 L501.46 232.31 L501.50 250.25 L501.54 238.78 L501.58 227.19 L501.62 215.69 L501.67 204.53 L501.71 193.95 L501.75 184.19 L501.79 175.47 L501.83 168.01 L501.88 162.01 L501.92 157.60 L501.96 154.91 L502.00 154.00 L502.06 155.11 L502.12 158.40 L502.18 163.80 L502.23 171.15 L502.29 180.27 L502.35 190.94 L502.41 202.89 L502.47 215.84 L502.52 229.49 L502.58 243.56 L502.64 257.74 L502.70 271.78 L502.82 249.56 L502.95 227.11 L503.07 204.84 L503.20 183.23 L503.32 162.73 L503.45 143.82 L503.57 126.93 L503.70 112.49 L503.82 100.85 L503.95 92.32 L504.07 87.10 L504.20 85.35 L504.25 86.99 L504.30 91.89 L504.35 99.89 L504.40 110.81 L504.45 124.36 L504.50 140.20 L504.55 157.94 L504.60 177.17 L504.65 197.45 L504.70 218.34 L504.75 239.41 L504.80 260.25 L504.88 245.92 L504.97 231.43 L505.05 217.07 L505.13 203.12 L505.22 189.90 L505.30 177.70 L505.38 166.80 L505.47 157.49 L505.55 149.98 L505.63 144.47 L505.72 141.11 L505.80 139.98 L505.86 141.02 L505.92 144.11 L505.98 149.16 L506.03 156.06 L506.09 164.61 L506.15 174.62 L506.21 185.82 L506.27 197.97 L506.32 210.78 L506.38 223.97 L506.44 237.27 L506.50 250.44 L506.57 229.33 L506.65 208.00 L506.73 186.85 L506.80 166.32 L506.88 146.85 L506.95 128.89 L507.02 112.85 L507.10 99.13 L507.17 88.08 L507.25 79.97 L507.32 75.02 L507.40 73.35 L507.45 75.10 L507.50 80.30 L507.55 88.82 L507.60 100.44 L507.65 114.86 L507.70 131.71 L507.75 150.59 L507.80 171.05 L507.85 192.63 L507.90 214.85 L507.95 237.27 L508.00 259.45 L508.08 243.58 L508.17 227.53 L508.25 211.62 L508.33 196.18 L508.42 181.54 L508.50 168.02 L508.58 155.96 L508.67 145.64 L508.75 137.33 L508.83 131.23 L508.92 127.50 L509.00 126.25 L509.06 127.34 L509.12 130.60 L509.18 135.93 L509.23 143.19 L509.29 152.21 L509.35 162.75 L509.41 174.55 L509.47 187.35 L509.52 200.84 L509.58 214.74 L509.64 228.76 L509.70 242.63 L509.77 220.95 L509.85 199.04 L509.93 177.32 L510.00 156.24 L510.07 136.24 L510.15 117.79 L510.23 101.32 L510.30 87.23 L510.38 75.87 L510.45 67.55 L510.53 62.46 L510.60 60.75 L510.65 62.61 L510.70 68.15 L510.75 77.21 L510.80 89.57 L510.85 104.91 L510.90 122.84 L510.95 142.93 L511.00 164.70 L511.05 187.66 L511.10 211.30 L511.15 235.15 L511.20 258.75 L511.28 242.01 L511.37 225.08 L511.45 208.30 L511.53 192.01 L511.62 176.57 L511.70 162.31 L511.78 149.59 L511.87 138.70 L511.95 129.93 L512.03 123.50 L512.12 119.57 L512.20 118.25 L512.26 119.33 L512.32 122.52 L512.38 127.76 L512.43 134.90 L512.49 143.77 L512.55 154.13 L512.61 165.73 L512.67 178.31 L512.73 191.57 L512.78 205.24 L512.84 219.02 L512.90 232.65 L512.98 210.54 L513.05 188.20 L513.12 166.04 L513.20 144.54 L513.27 124.14 L513.35 105.32 L513.42 88.52 L513.50 74.15 L513.57 62.57 L513.65 54.08 L513.72 48.89 L513.80 47.15 L513.85 49.12 L513.90 54.99 L513.95 64.60 L514.00 77.70 L514.05 93.96 L514.10 112.96 L514.15 134.25 L514.20 157.32 L514.25 181.65 L514.30 206.72 L514.35 231.99 L514.40 257.00 L514.48 239.20 L514.57 221.20 L514.65 203.35 L514.73 186.03 L514.82 169.60 L514.90 154.44 L514.98 140.91 L515.07 129.34 L515.15 120.01 L515.23 113.17 L515.32 108.99 L515.40 107.58 L515.46 108.70 L515.52 112.02 L515.57 117.46 L515.63 124.87 L515.69 134.06 L515.75 144.81 L515.81 156.86 L515.87 169.91 L515.92 183.68 L515.98 197.85 L516.04 212.16 L516.10 226.30 L516.17 204.12 L516.25 181.70 L516.32 159.46 L516.40 137.88 L516.47 117.41 L516.55 98.53 L516.62 81.67 L516.70 67.25 L516.77 55.63 L516.85 47.11 L516.92 41.90 L517.00 40.15 L517.05 42.17 L517.10 48.20 L517.15 58.06 L517.20 71.50 L517.25 88.18 L517.30 107.68 L517.35 129.53 L517.40 153.21 L517.45 178.17 L517.50 203.89 L517.55 229.83 L517.60 255.50 L517.68 237.66 L517.77 219.62 L517.85 201.75 L517.93 184.39 L518.02 167.93 L518.10 152.74 L518.18 139.19 L518.27 127.59 L518.35 118.24 L518.43 111.39 L518.52 107.20 L518.60 105.80 L518.66 106.92 L518.72 110.25 L518.77 115.70 L518.83 123.13 L518.89 132.35 L518.95 143.13 L519.01 155.21 L519.07 168.30 L519.12 182.10 L519.18 196.32 L519.24 210.66 L519.30 224.85 L519.39 203.20 L519.48 181.31 L519.57 159.61 L519.67 138.54 L519.76 118.57 L519.85 100.13 L519.94 83.68 L520.03 69.60 L520.12 58.26 L520.22 49.94 L520.31 44.86 L520.40 43.15 L520.45 45.17 L520.50 51.18 L520.55 61.01 L520.60 74.42 L520.65 91.06 L520.70 110.51 L520.75 132.30 L520.80 155.92 L520.85 180.82 L520.90 206.48 L520.95 232.35 L521.00 257.95 L521.08 240.17 L521.17 222.20 L521.25 204.38 L521.33 187.08 L521.42 170.68 L521.50 155.54 L521.58 142.03 L521.67 130.47 L521.75 121.16 L521.83 114.32 L521.92 110.15 L522.00 108.75 L522.06 109.83 L522.12 113.03 L522.17 118.26 L522.23 125.41 L522.29 134.27 L522.35 144.63 L522.41 156.24 L522.47 168.82 L522.52 182.09 L522.58 195.75 L522.64 209.53 L522.70 223.17 L522.77 203.53 L522.85 183.67 L522.92 163.99 L523.00 144.88 L523.07 126.76 L523.15 110.04 L523.23 95.11 L523.30 82.34 L523.38 72.06 L523.45 64.51 L523.52 59.90 L523.60 58.35 L523.65 60.29 L523.70 66.05 L523.75 75.49 L523.80 88.35 L523.85 104.32 L523.90 122.98 L523.95 143.89 L524.00 166.54 L524.05 190.44 L524.10 215.05 L524.15 239.87 L524.20 264.43 L524.28 248.26 L524.37 231.92 L524.45 215.72 L524.53 199.98 L524.62 185.07 L524.70 171.30 L524.78 159.01 L524.87 148.50 L524.95 140.03 L525.03 133.82 L525.12 130.03 L525.20 128.75 L525.26 129.68 L525.32 132.43 L525.38 136.94 L525.43 143.08 L525.49 150.71 L525.55 159.62 L525.61 169.61 L525.67 180.43 L525.73 191.85 L525.78 203.60 L525.84 215.46 L525.90 227.20 L525.98 209.86 L526.05 192.34 L526.12 174.97 L526.20 158.11 L526.27 142.12 L526.35 127.36 L526.42 114.19 L526.50 102.92 L526.57 93.84 L526.65 87.18 L526.72 83.12 L526.80 81.75 L526.85 83.54 L526.90 88.88 L526.95 97.62 L527.00 109.53 L527.05 124.32 L527.10 141.60 L527.15 160.97 L527.20 181.95 L527.25 204.08 L527.30 226.87 L527.35 249.86 L527.40 272.60 L527.48 258.08 L527.57 243.40 L527.65 228.85 L527.73 214.72 L527.82 201.33 L527.90 188.96 L527.98 177.93 L528.07 168.49 L528.15 160.88 L528.23 155.30 L528.32 151.90 L528.40 150.75 L528.46 151.52 L528.52 153.81 L528.57 157.56 L528.63 162.67 L528.69 169.02 L528.75 176.43 L528.81 184.74 L528.87 193.75 L528.92 203.24 L528.98 213.02 L529.04 222.89 L529.10 232.65 L529.17 219.67 L529.25 206.55 L529.32 193.55 L529.40 180.92 L529.47 168.95 L529.55 157.90 L529.62 148.04 L529.70 139.60 L529.77 132.81 L529.85 127.82 L529.92 124.77 L530.00 123.75 L530.05 125.35 L530.10 130.10 L530.15 137.89 L530.20 148.50 L530.25 161.67 L530.30 177.07 L530.35 194.31 L530.40 213.01 L530.45 232.72 L530.50 253.02 L530.55 273.50 L530.60 293.76 L530.68 280.65 L530.77 267.40 L530.85 254.26 L530.93 241.51 L531.02 229.41 L531.10 218.25 L531.18 208.29 L531.27 199.77 L531.35 192.90 L531.43 187.86 L531.52 184.78 L531.60 183.75 L531.66 184.21 L531.72 185.58 L531.77 187.83 L531.83 190.90 L531.89 194.70 L531.95 199.15 L532.01 204.13 L532.07 209.53 L532.12 215.22 L532.18 221.09 L532.24 227.00 L532.30 232.86 L532.38 225.76 L532.45 218.60 L532.52 211.49 L532.60 204.59 L532.67 198.05 L532.75 192.01 L532.83 186.62 L532.90 182.01 L532.98 178.30 L533.05 175.57 L533.12 173.91 L533.20 173.35 L533.25 174.70 L533.30 178.70 L533.35 185.27 L533.40 194.21 L533.45 205.31 L533.50 218.29 L533.55 232.83 L533.60 248.58 L533.65 265.20 L533.70 282.31 L533.75 299.57 L533.80 316.65 L533.88 304.10 L533.97 291.42 L534.05 278.85 L534.13 266.64 L534.22 255.07 L534.30 244.39 L534.38 234.85 L534.47 226.70 L534.55 220.13 L534.63 215.30 L534.72 212.36 L534.80 211.37 L534.89 211.91 L534.98 213.51 L535.06 216.06 L535.15 219.43 L535.24 223.43 L535.33 227.84 L535.41 232.46 L535.50 237.07 L535.60 232.08 L535.70 227.06 L535.80 222.19 L535.90 217.66 L536.00 213.64 L536.10 210.31 L536.20 207.82 L536.30 206.27 L536.40 205.75 L536.45 206.82 L536.50 210.01 L536.55 215.22 L536.60 222.33 L536.65 231.15 L536.70 241.47 L536.75 253.02 L536.80 265.55 L536.85 278.75 L536.90 292.36 L536.95 306.08 L537.00 319.65 L537.12 308.08 L537.23 296.38 L537.35 284.79 L537.47 273.53 L537.58 262.85 L537.70 253.00 L537.82 244.21 L537.93 236.69 L538.05 230.62 L538.17 226.18 L538.28 223.46 L538.40 222.55 L538.48 223.06 L538.56 224.58 L538.63 227.02 L538.71 230.28 L538.79 234.22 L538.87 238.67 L538.94 243.44 L539.02 248.36 L539.10 253.25 L539.20 248.75 L539.30 244.24 L539.40 239.92 L539.50 236.02 L539.60 232.73 L539.70 230.24 L539.80 228.68 L539.90 228.15 L539.95 229.02 L540.00 231.60 L540.05 235.83 L540.10 241.59 L540.15 248.74 L540.20 257.10 L540.25 266.46 L540.30 276.61 L540.35 287.31 L540.40 298.33 L540.45 309.45 L540.50 320.45 L540.56 313.57 L540.62 306.62 L540.67 299.73 L540.73 293.04 L540.79 286.70 L540.85 280.84 L540.91 275.62 L540.97 271.15 L541.03 267.55 L541.08 264.91 L541.14 263.29 L541.20 262.75 L541.33 263.21 L541.45 264.47 L541.58 266.28 L541.70 268.25 L541.80 263.26 L541.90 258.30 L542.00 253.67 L542.10 249.67 L542.20 246.57 L542.30 244.62 L542.40 243.95 L542.48 244.61 L542.57 246.58 L542.65 249.81 L542.73 254.21 L542.82 259.67 L542.90 266.06 L542.98 273.21 L543.07 280.96 L543.15 289.14 L543.23 297.56 L543.32 306.05 L543.40 314.45 L543.47 308.77 L543.53 303.02 L543.60 297.32 L543.67 291.79 L543.73 286.55 L543.80 281.71 L543.87 277.39 L543.93 273.69 L544.00 270.72 L544.07 268.53 L544.13 267.20 L544.20 266.75 L544.30 267.37 L544.40 269.15 L544.50 271.92 L544.60 275.41 L544.70 279.30 L544.80 283.25 L544.87 278.39 L544.93 273.50 L545.00 268.76 L545.07 264.35 L545.13 260.43 L545.20 257.19 L545.27 254.76 L545.33 253.26 L545.40 252.75 L545.52 253.29 L545.63 254.91 L545.75 257.55 L545.87 261.15 L545.98 265.62 L546.10 270.84 L546.22 276.70 L546.33 283.04 L546.45 289.73 L546.57 296.62 L546.68 303.57 L546.80 310.45 L546.87 305.02 L546.95 299.55 L547.02 294.14 L547.09 288.94 L547.16 284.08 L547.24 279.70 L547.31 275.93 L547.38 272.86 L547.45 270.60 L547.53 269.22 L547.60 268.75 L547.70 269.31 L547.80 270.95 L547.90 273.59 L548.00 277.06 L548.10 281.18 L548.20 285.73 L548.30 290.50 L548.40 295.25 L548.48 290.02 L548.56 284.75 L548.64 279.58 L548.72 274.68 L548.80 270.20 L548.88 266.28 L548.96 263.08 L549.04 260.71 L549.12 259.24 L549.20 258.75 L549.30 259.29 L549.40 260.91 L549.50 263.56 L549.60 267.18 L549.70 271.66 L549.80 276.91 L549.90 282.78 L550.00 289.15 L550.10 295.86 L550.20 302.78 L550.30 309.75 L550.40 316.65 L550.46 311.18 L550.52 305.65 L550.58 300.17 L550.63 294.85 L550.69 289.80 L550.75 285.14 L550.81 280.99 L550.87 277.43 L550.92 274.57 L550.98 272.47 L551.04 271.18 L551.10 270.75 L551.20 271.31 L551.30 272.96 L551.40 275.57 L551.50 278.95 L551.60 282.86 L551.70 287.04 L551.80 291.25 L551.90 286.21 L552.00 281.16 L552.10 276.33 L552.20 271.96 L552.30 268.28 L552.40 265.49 L552.50 263.74 L552.60 263.15 L552.75 263.64 L552.90 265.11 L553.05 267.52 L553.20 270.79 L553.35 274.86 L553.50 279.61 L553.65 284.94 L553.80 290.71 L553.95 296.80 L554.10 303.07 L554.25 309.39 L554.40 315.65 L554.47 309.81 L554.55 303.91 L554.62 298.09 L554.69 292.49 L554.76 287.26 L554.84 282.55 L554.91 278.48 L554.98 275.18 L555.05 272.74 L555.13 271.25 L555.20 270.75 L555.30 271.37 L555.40 273.15 L555.50 275.92 L555.60 279.41 L555.70 283.30 L555.80 287.25 L555.88 282.14 L555.95 277.02 L556.02 272.12 L556.10 267.69 L556.17 263.95 L556.25 261.12 L556.32 259.35 L556.40 258.75 L556.53 259.34 L556.67 261.10 L556.80 263.98 L556.93 267.91 L557.07 272.78 L557.20 278.48 L557.33 284.86 L557.47 291.77 L557.60 299.07 L557.73 306.58 L557.87 314.15 L558.00 321.65 L558.07 315.35 L558.13 308.97 L558.20 302.66 L558.27 296.52 L558.33 290.71 L558.40 285.34 L558.47 280.55 L558.53 276.45 L558.60 273.15 L558.67 270.73 L558.73 269.25 L558.80 268.75 L558.89 269.37 L558.97 271.18 L559.06 274.04 L559.14 277.75 L559.23 282.04 L559.31 286.63 L559.40 291.25 L559.45 285.71 L559.50 280.11 L559.55 274.55 L559.60 269.16 L559.65 264.05 L559.70 259.33 L559.75 255.12 L559.80 251.52 L559.85 248.62 L559.90 246.49 L559.95 245.19 L560.00 244.75 L560.12 245.39 L560.23 247.31 L560.35 250.45 L560.47 254.72 L560.58 260.03 L560.70 266.23 L560.82 273.18 L560.93 280.71 L561.05 288.65 L561.17 296.83 L561.28 305.09 L561.40 313.25 L561.57 302.15 L561.73 290.94 L561.90 279.82 L562.07 269.03 L562.23 258.79 L562.40 249.35 L562.57 240.92 L562.73 233.70 L562.90 227.89 L563.07 223.63 L563.23 221.03 L563.40 220.15 L563.53 220.89 L563.67 223.09 L563.80 226.69 L563.93 231.61 L564.07 237.70 L564.20 244.83 L564.33 252.81 L564.47 261.47 L564.60 270.59 L564.73 279.99 L564.87 289.47 L565.00 298.85 L565.12 287.46 L565.23 275.94 L565.35 264.52 L565.47 253.44 L565.58 242.93 L565.70 233.23 L565.82 224.57 L565.93 217.17 L566.05 211.20 L566.17 206.82 L566.28 204.15 L566.40 203.25 L566.55 204.19 L566.70 206.97 L566.85 211.53 L567.00 217.75 L567.15 225.46 L567.30 234.48 L567.45 244.59 L567.60 255.54 L567.75 267.09 L567.90 278.98 L568.05 290.98 L568.20 302.85 L568.33 288.42 L568.45 273.83 L568.58 259.37 L568.70 245.33 L568.83 232.01 L568.95 219.73 L569.08 208.76 L569.20 199.38 L569.33 191.82 L569.45 186.27 L569.58 182.89 L569.70 181.75 L569.84 182.92 L569.98 186.38 L570.12 192.05 L570.27 199.79 L570.41 209.38 L570.55 220.61 L570.69 233.18 L570.83 246.80 L570.98 261.16 L571.12 275.96 L571.26 290.88 L571.40 305.65 L571.50 289.36 L571.60 272.89 L571.70 256.57 L571.80 240.72 L571.90 225.69 L572.00 211.82 L572.10 199.44 L572.20 188.85 L572.30 180.32 L572.40 174.06 L572.50 170.24 L572.60 168.95" stroke="#0000ff" stroke-width="1.5" fill="none" stroke-linejoin="round" stroke-linecap="butt"/>
<path d="M43.9 31.2 V356.05 M43.4 355.55 H588.5 M59.40 355.55 v-5 M162.05 355.55 v-5 M264.70 355.55 v-5 M367.35 355.55 v-5 M470.00 355.55 v-5 M572.65 355.55 v-5 M43.9 346.50 h5 M43.9 283.25 h5 M43.9 220.00 h5 M43.9 156.75 h5 M43.9 93.50 h5" stroke="#000" stroke-width="1.1" fill="none"/>
<text x="59.40" y="371.6" font-size="11.75" text-anchor="middle" font-family="DejaVu Sans, Liberation Sans, sans-serif">0</text>
<text x="162.05" y="371.6" font-size="11.75" text-anchor="middle" font-family="DejaVu Sans, Liberation Sans, sans-serif">1000</text>
<text x="264.70" y="371.6" font-size="11.75" text-anchor="middle" font-family="DejaVu Sans, Liberation Sans, sans-serif">2000</text>
<text x="367.35" y="371.6" font-size="11.75" text-anchor="middle" font-family="DejaVu Sans, Liberation Sans, sans-serif">3000</text>
<text x="470.00" y="371.6" font-size="11.75" text-anchor="middle" font-family="DejaVu Sans, Liberation Sans, sans-serif">4000</text>
<text x="572.65" y="371.6" font-size="11.75" text-anchor="middle" font-family="DejaVu Sans, Liberation Sans, sans-serif">5000</text>
<text x="35.7" y="350.90" font-size="11.75" text-anchor="end" font-family="DejaVu Sans, Liberation Sans, sans-serif">0</text>
<text x="35.7" y="287.65" font-size="11.75" text-anchor="end" font-family="DejaVu Sans, Liberation Sans, sans-serif">1</text>
<text x="35.7" y="224.40" font-size="11.75" text-anchor="end" font-family="DejaVu Sans, Liberation Sans, sans-serif">2</text>
<text x="35.7" y="161.15" font-size="11.75" text-anchor="end" font-family="DejaVu Sans, Liberation Sans, sans-serif">3</text>
<text x="35.7" y="97.90" font-size="11.75" text-anchor="end" font-family="DejaVu Sans, Liberation Sans, sans-serif">4</text>
<text x="316.6" y="392" font-size="16.2" text-anchor="middle" font-family="DejaVu Sans, Liberation Sans, sans-serif">Time</text>
<text transform="translate(16,193) rotate(-90)" font-size="16.2" text-anchor="middle" font-family="DejaVu Sans, Liberation Sans, sans-serif">Difference</text>
<text transform="translate(316.4,18.1) rotate(0.03)" font-size="20.8" text-anchor="middle" font-family="DejaVu Sans, Liberation Sans, sans-serif">Absolute Difference in States Over Time</text>
<rect x="62" y="41.5" width="169.7" height="25.8" fill="#fff" stroke="#000" stroke-width="1"/>
<path d="M67.2 54.6 H104.9" stroke="#0000ff" stroke-width="1.45" fill="none"/>
<text x="109.3" y="58.8" font-size="11.9" font-family="DejaVu Sans, Liberation Sans, sans-serif">Difference in States</text>
</svg>
</body></html>
